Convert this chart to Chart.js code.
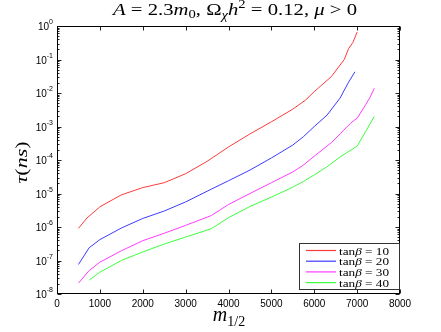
<!DOCTYPE html>
<html>
<head>
<meta charset="utf-8">
<script src="https://cdn.jsdelivr.net/npm/chart.js@4.4.1/dist/chart.umd.min.js"></script>
<style>
  html, body { margin: 0; padding: 0; background: #fff; }
  #wrap { width: 441px; height: 332px; }
</style>
</head>
<body>
<div id="wrap"><canvas id="c" width="441" height="332"></canvas></div>
<script>
// tan(beta) values, one curve each
const tanBeta = ['10', '20', '30', '40'];
const lineColors = ['#ff3b3b', '#3b3bff', '#ff3bff', '#3bff3b'];

// m_1/2 and tau(ns)
const m10   = [500, 700, 1000, 1500, 2000, 2500, 3000, 3500, 4000, 4500, 5000, 5500, 5800, 6000, 6400, 6700, 6800, 6900, 7000];
const tau10 = [9.1e-7, 1.86e-6, 4.0e-6, 9.1e-6, 1.5e-5, 2.1e-5, 3.9e-5, 9.1e-5, 2.45e-4, 6.0e-4, 1.38e-3, 3.3e-3, 6.2e-3, 1.1e-2, 3.1e-2, 1.0e-1, 2.1e-1, 3.2e-1, 6.6e-1];

const m20   = [500, 750, 1000, 1500, 2000, 2500, 3000, 3600, 4000, 4500, 5000, 5500, 5750, 6000, 6300, 6600, 6800, 6950];
const tau20 = [7.6e-8, 2.4e-7, 4.2e-7, 9.3e-7, 1.8e-6, 3.0e-6, 5.6e-6, 1.35e-5, 2.4e-5, 5.0e-5, 1.15e-4, 2.8e-4, 5.0e-4, 1.0e-3, 2.2e-3, 7.0e-3, 2.1e-2, 4.3e-2];

const m30   = [500, 750, 1000, 1500, 2000, 2500, 3000, 3600, 4000, 4500, 5000, 5500, 5750, 6000, 6400, 6600, 6850, 6950, 7000, 7200, 7300, 7400];
const tau30 = [2.1e-8, 5.0e-8, 8.9e-8, 1.95e-7, 3.9e-7, 6.5e-7, 1.12e-6, 2.2e-6, 4.7e-6, 1.0e-5, 2.1e-5, 4.4e-5, 7.1e-5, 1.3e-4, 3.3e-4, 6.0e-4, 1.26e-3, 1.6e-3, 1.75e-3, 4.5e-3, 7.4e-3, 1.38e-2];

const m40   = [750, 1000, 1500, 2000, 2500, 3000, 3600, 4000, 4500, 5000, 5500, 5750, 6000, 6300, 6600, 7000, 7200, 7400];
const tau40 = [2.6e-8, 4.5e-8, 1.0e-7, 1.8e-7, 3.1e-7, 5.0e-7, 8.9e-7, 1.9e-6, 4.1e-6, 7.8e-6, 1.55e-5, 2.3e-5, 3.6e-5, 6.3e-5, 1.23e-4, 2.6e-4, 7.1e-4, 2.0e-3];

const xTicks = [0, 1000, 2000, 3000, 4000, 5000, 6000, 7000, 8000];
const yDecades = [-8, -7, -6, -5, -4, -3, -2, -1, 0];

const SERIF = '"Liberation Serif", "DejaVu Serif", serif';
const SANS = '"Liberation Sans", Arial, sans-serif';

// draw a run of text pieces: [text, font, dy]; fitW stretches the run to that width
function richText(ctx, parts, x, y, align, fitW) {
  let w = 0;
  parts.forEach(p => { ctx.font = p[1]; w += ctx.measureText(p[0]).width; });
  const sx = fitW ? fitW / w : 1;
  const tw = w * sx;
  const x0 = align === 'center' ? x - tw / 2 : (align === 'right' ? x - tw : x);
  ctx.save();
  ctx.translate(x0, y);
  ctx.scale(sx, 1);
  ctx.textAlign = 'left';
  ctx.textBaseline = 'alphabetic';
  let cx = 0;
  parts.forEach(p => {
    ctx.font = p[1];
    ctx.fillText(p[0], cx, p[2] || 0);
    cx += ctx.measureText(p[0]).width;
  });
  ctx.restore();
  return tw;
}

const decor = {
  id: 'decor',
  afterDraw(chart) {
    const ctx = chart.ctx, a = chart.chartArea;
    const xs = chart.scales.x, ys = chart.scales.y;
    ctx.save();
    ctx.fillStyle = '#000';
    ctx.strokeStyle = '#222';
    ctx.lineWidth = 1;

    const L = Math.round(a.left) + 0.5, R = Math.round(a.right) - 0.5;
    const T = Math.round(a.top) + 0.5, B = Math.round(a.bottom) - 0.5;

    // inward ticks
    ctx.beginPath();
    xTicks.forEach(v => {
      const px = Math.round(xs.getPixelForValue(v)) + 0.5;
      ctx.moveTo(px, B); ctx.lineTo(px, B - 4);
      ctx.moveTo(px, T); ctx.lineTo(px, T + 4);
    });
    yDecades.forEach(e => {
      const py = Math.round(ys.getPixelForValue(Math.pow(10, e))) + 0.5;
      ctx.moveTo(L, py); ctx.lineTo(L + 4, py);
      ctx.moveTo(R, py); ctx.lineTo(R - 4, py);
      if (e < 0) {
        for (let k = 2; k <= 9; k++) {
          const q = Math.round(ys.getPixelForValue(k * Math.pow(10, e))) + 0.5;
          ctx.moveTo(L, q); ctx.lineTo(L + 2, q);
          ctx.moveTo(R, q); ctx.lineTo(R - 2, q);
        }
      }
    });
    ctx.stroke();

    // frame
    ctx.strokeStyle = '#000';
    ctx.strokeRect(L, T, R - L, B - T);

    // y tick labels 10^e
    yDecades.forEach(e => {
      const py = ys.getPixelForValue(Math.pow(10, e));
      richText(ctx, [['10', '10px ' + SANS, 0], [String(e), '7px ' + SANS, -6]], 53, py + 4, 'right');
    });

    // title
    const f = '17px ' + SERIF, fi = 'italic 17px ' + SERIF;
    const fs = '12px ' + SERIF, fsi = 'italic 12px ' + SERIF;
    richText(ctx, [
      ['A', fi], [' = 2.3', f], ['m', fi], ['0', fs, 3], [', ', f],
      ['Ω', f], ['χ', fsi, 4], ['h', fi], ['2', fs, -7],
      [' = 0.12, ', f], ['μ', fi], [' > 0', f]
    ], 235, 15, 'center', 244);

    // x label
    richText(ctx, [['m', 'italic 20px ' + SERIF, 0], ['1/2', '14px ' + SERIF, 5]], 229, 321, 'center');

    // y label
    ctx.save();
    ctx.translate(27, 162.5);
    ctx.rotate(-Math.PI / 2);
    richText(ctx, [['τ', 'italic 16px ' + SERIF], ['(', '16px ' + SERIF], ['ns', 'italic 16px ' + SERIF], [')', '16px ' + SERIF]], 0, 0, 'center', 42);
    ctx.restore();

    // legend box
    const bx = 299.5, by = 243.5, bw = 100, bh = 46;
    ctx.fillStyle = '#fff';
    ctx.fillRect(bx, by, bw, bh);
    ctx.strokeStyle = '#333';
    ctx.lineWidth = 1;
    ctx.strokeRect(bx, by, bw, bh);
    tanBeta.forEach((t, i) => {
      const ry = by + 7 + i * 10.7;
      ctx.strokeStyle = lineColors[i];
      ctx.lineWidth = 1.2;
      ctx.beginPath();
      ctx.moveTo(306, ry);
      ctx.lineTo(336, ry);
      ctx.stroke();
      ctx.fillStyle = '#000';
      richText(ctx, [['tan', '11px ' + SERIF], ['β', 'italic 11px ' + SERIF], [' = ' + t, '11px ' + SERIF]], 339, ry + 4, 'left', 50);
    });
    ctx.restore();
  }
};

const series = [[m10, tau10], [m20, tau20], [m30, tau30], [m40, tau40]];

new Chart(document.getElementById('c'), {
  type: 'line',
  data: {
    datasets: series.map((s, i) => ({
      label: 'tanβ = ' + tanBeta[i],
      data: s[0].map((x, j) => ({ x: x, y: s[1][j] })),
      borderColor: lineColors[i],
      borderWidth: 1,
      pointRadius: 0,
      tension: 0,
      fill: false
    }))
  },
  options: {
    responsive: false,
    animation: false,
    devicePixelRatio: 1,
    layout: { padding: { left: 57, right: 41, top: 26, bottom: 0 } },
    plugins: { legend: { display: false }, title: { display: false }, tooltip: { enabled: false } },
    scales: {
      x: {
        type: 'linear', min: 0, max: 8000,
        afterFit: s => { s.height = 38; },
        afterBuildTicks: s => { s.ticks = xTicks.map(v => ({ value: v })); },
        grid: { display: false, drawTicks: false },
        border: { display: false },
        ticks: { padding: 4, color: '#000', font: { family: 'Liberation Sans', size: 10 }, maxRotation: 0, autoSkip: false, callback: v => String(v) }
      },
      y: {
        type: 'logarithmic', min: 1e-8, max: 1,
        display: false
      }
    }
  },
  plugins: [decor]
});
</script>
</body>
</html>
